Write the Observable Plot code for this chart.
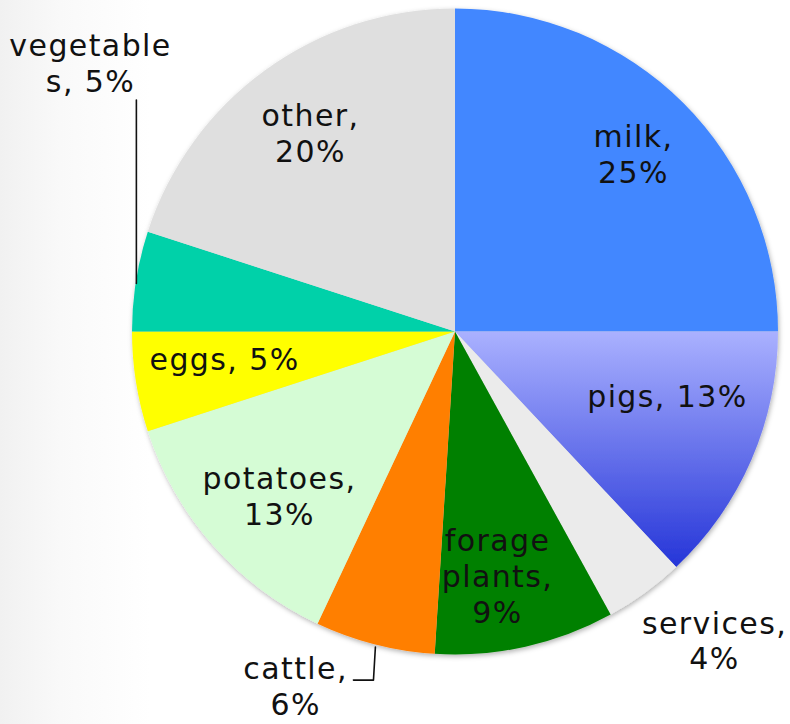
<!DOCTYPE html>
<html><head><meta charset="utf-8">
<script src="https://cdn.jsdelivr.net/npm/d3@7"></script>
<script src="https://cdn.jsdelivr.net/npm/@observablehq/plot@0.6"></script>
<style>
html,body{margin:0;padding:0;}
body{width:790px;height:724px;overflow:hidden;background:linear-gradient(to right,#f1f1f1 0px,#f9f9f9 60px,#ffffff 150px);}
</style></head><body><div id="chart"></div>
<script>
// data
const categories = ["milk","pigs","services","forage plants","cattle","potatoes","eggs","vegetables","other"];
const shares = [25,13,4,9,6,13,5,5,20];
const labels = ["milk,\n25%","pigs, 13%","services,\n4%","forage\nplants,\n9%","cattle,\n6%","potatoes,\n13%","eggs, 5%","vegetable\ns, 5%","other,\n20%"];
const colors = ["#4287ff","url(#pigsGrad)","#ebebeb","#008000","#ff7f00","#d5fcd5","#ffff00","#00d1a9","#dfdfdf"];

// layout (label anchor positions in pie-radius units, leader lines)
const labelX = [0.551,0.656,0.802,0.130,-0.495,-0.545,-0.715,-1.130,-0.449];
const labelY = [0.551,-0.197,-0.952,-0.754,-1.094,-0.505,-0.082,0.834,0.617];
const leaders = [
  {cat:"vegetables", pts:[[-0.988,0.717],[-0.988,0.150]]},
  {cat:"cattle", pts:[[-0.248,-0.974],[-0.254,-1.076],[-0.316,-1.076]]}
];

const labelData = categories.map((c,i)=>({cat:c,label:labels[i],x:labelX[i],y:labelY[i]}));
const leaderData = leaders.flatMap(l=>l.pts.map(p=>({cat:l.cat,x:p[0],y:p[1]})));

function pieMark(index, scales, values, dimensions) {
  const g = d3.create("svg:g");
  const defs = g.append("defs");
  const grad = defs.append("linearGradient").attr("id","pigsGrad").attr("x1",0).attr("y1",0).attr("x2",0).attr("y2",1);
  grad.append("stop").attr("offset","0%").attr("stop-color","#aab1ff");
  grad.append("stop").attr("offset","100%").attr("stop-color","#2535d8");
  const f = defs.append("filter").attr("id","pieShadow").attr("x","-10%").attr("y","-10%").attr("width","120%").attr("height","120%");
  f.append("feDropShadow").attr("dx",1).attr("dy",2).attr("stdDeviation",2.5).attr("flood-color","#000").attr("flood-opacity",0.3);
  const cx = scales.x(0), cy = scales.y(0);
  const r = scales.x(1) - scales.x(0);
  const arcs = d3.pie().sort(null).value(d=>d)(shares);
  const arc = d3.arc().innerRadius(0).outerRadius(r);
  const pg = g.append("g").attr("transform",`translate(${cx},${cy})`).attr("filter","url(#pieShadow)");
  pg.selectAll("path").data(arcs).join("path")
    .attr("d",arc).attr("fill",(d,i)=>colors[i]);
  return g.node();
}

const plot = Plot.plot({
  width: 790,
  height: 724,
  marginLeft: 132,
  marginRight: 12,
  marginTop: 8,
  marginBottom: 69,
  style: {background: "transparent", fontFamily: "'DejaVu Sans', Verdana, sans-serif", letterSpacing: "1.4px"},
  x: {domain: [-1,1], axis: null},
  y: {domain: [-1,1], axis: null},
  marks: [
    pieMark,
    Plot.line(leaderData, {x:"x", y:"y", z:"cat", stroke:"#111", strokeWidth:1.6}),
    Plot.text(labelData, {x:"x", y:"y", text:"label", fontSize:30, lineHeight:1.2, fill:"#111", textAnchor:"middle"})
  ]
});
document.getElementById("chart").appendChild(plot);
</script>
</body></html>
